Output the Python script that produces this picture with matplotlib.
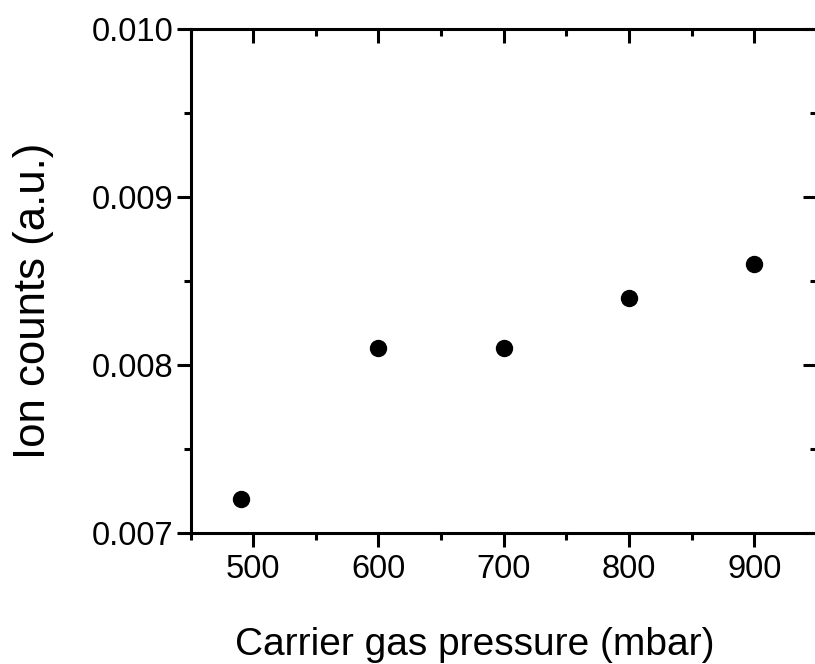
import matplotlib
matplotlib.use("Agg")
import matplotlib.pyplot as plt
from matplotlib.ticker import MultipleLocator, FormatStrFormatter

pressure = [490, 600, 700, 800, 900]
ion_counts = [0.0072, 0.0081, 0.0081, 0.0084, 0.0086]

plt.rcParams['font.family'] = ['Liberation Sans', 'DejaVu Sans']

fig = plt.figure(figsize=(8.15, 6.64), dpi=100)
ax = fig.add_axes([190.5/815, 131/664, (817-190.5)/815, (533-29)/664])

ax.plot(pressure, ion_counts, 'o', color='black', markersize=11.5, linestyle='none')

ax.set_xlim(450, 950)
ax.set_ylim(0.007, 0.010)
ax.xaxis.set_major_locator(MultipleLocator(100))
ax.xaxis.set_minor_locator(MultipleLocator(50))
ax.yaxis.set_major_locator(MultipleLocator(0.001))
ax.yaxis.set_minor_locator(MultipleLocator(0.0005))
ax.yaxis.set_major_formatter(FormatStrFormatter('%.3f'))

for s in ax.spines.values():
    s.set_linewidth(2.2)

ax.tick_params(axis='both', which='major', direction='out', length=10, width=2.2,
               labelsize=23.5, pad=4)
ax.tick_params(axis='y', which='major', pad=2.5)
ax.tick_params(axis='x', which='major', pad=5)
ax.tick_params(axis='both', which='minor', direction='out', length=5, width=2.2)
ax.tick_params(top=True, right=True, which='both')
# top/right ticks point inward
for t in ax.xaxis.get_major_ticks() + ax.xaxis.get_minor_ticks():
    t.tick2line.set_marker(matplotlib.lines.TICKDOWN)
for t in ax.yaxis.get_major_ticks() + ax.yaxis.get_minor_ticks():
    t.tick2line.set_marker(matplotlib.lines.TICKLEFT)

ax.set_xlabel('Carrier gas pressure (mbar)', fontsize=28)
ax.set_ylabel('Ion counts (a.u.)', fontsize=31.5)
ax.xaxis.set_label_coords(0.453, -0.187)
ax.yaxis.set_label_coords(-0.218, 0.461)

fig.savefig('out.png', dpi=100)
